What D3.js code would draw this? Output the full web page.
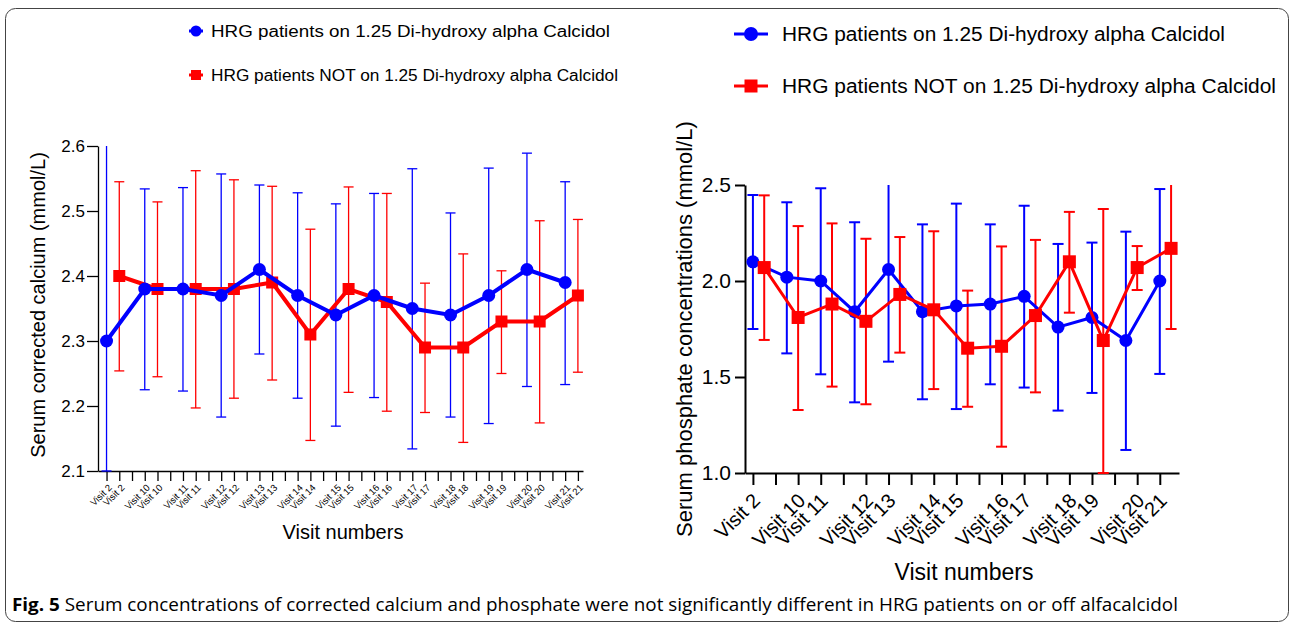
<!DOCTYPE html>
<html>
<head>
<meta charset="utf-8">
<script src="https://cdn.jsdelivr.net/npm/d3@7"></script>
<style>
  body { margin: 0; background: #fff; }
  svg { display: block; font-family: "Liberation Sans", Arial, sans-serif; }
  .axis path, .axis line { stroke: #000; }
</style>
</head>
<body>
<div id="chart"></div>
<script>
// visits shared by both panels
const visits = ["Visit 2", "Visit 10", "Visit 11", "Visit 12", "Visit 13", "Visit 14", "Visit 15",
  "Visit 16", "Visit 17", "Visit 18", "Visit 19", "Visit 20", "Visit 21"];

const seriesNames = ["HRG patients on 1.25 Di-hydroxy alpha Calcidol",
  "HRG patients NOT on 1.25 Di-hydroxy alpha Calcidol"];

// corrected calcium (mmol/L): mean, lower and upper ends of the error bars
const caOnMean = [2.30, 2.38, 2.38, 2.37, 2.41, 2.37, 2.34, 2.37, 2.35, 2.34, 2.37, 2.41, 2.39];
const caOnLow  = [2.10, 2.225, 2.223, 2.183, 2.28, 2.212, 2.169, 2.213, 2.134, 2.183, 2.173, 2.23, 2.233];
const caOnHigh = [2.64, 2.534, 2.536, 2.557, 2.54, 2.528, 2.511, 2.527, 2.565, 2.497, 2.566, 2.589, 2.545];
const caNotMean = [2.40, 2.38, 2.38, 2.38, 2.39, 2.31, 2.38, 2.36, 2.29, 2.29, 2.33, 2.33, 2.37];
const caNotLow  = [2.254, 2.245, 2.197, 2.212, 2.24, 2.147, 2.221, 2.192, 2.19, 2.144, 2.25, 2.174, 2.252];
const caNotHigh = [2.545, 2.514, 2.562, 2.548, 2.538, 2.472, 2.537, 2.527, 2.389, 2.434, 2.408, 2.485, 2.487];

// phosphate (mmol/L)
const poOnMean = [2.10, 2.02, 2.00, 1.84, 2.06, 1.84, 1.87, 1.88, 1.92, 1.76, 1.81, 1.69, 2.00];
const poOnLow  = [1.75, 1.623, 1.514, 1.368, 1.58, 1.384, 1.333, 1.462, 1.445, 1.325, 1.417, 1.12, 1.516];
const poOnHigh = [2.448, 2.41, 2.483, 2.306, 2.56, 2.295, 2.403, 2.295, 2.392, 2.193, 2.20, 2.257, 2.479];
const poNotMean = [2.07, 1.81, 1.88, 1.79, 1.93, 1.85, 1.65, 1.66, 1.82, 2.10, 1.69, 2.07, 2.17];
const poNotLow  = [1.693, 1.328, 1.45, 1.358, 1.627, 1.437, 1.345, 1.137, 1.42, 1.835, 1.00, 1.953, 1.75];
const poNotHigh = [2.446, 2.286, 2.30, 2.22, 2.229, 2.259, 1.95, 2.18, 2.214, 2.36, 2.375, 2.182, 2.58];

const caTicks = [2.1, 2.2, 2.3, 2.4, 2.5, 2.6];
const poTicks = [1.0, 1.5, 2.0, 2.5];

const colors = ["#0000ff", "#ff0000"];

const width = 1292, height = 624;
const svg = d3.select("#chart").append("svg")
  .attr("width", width).attr("height", height);

// frame
svg.append("rect")
  .attr("x", 5.5).attr("y", 8.5).attr("width", 1283).attr("height", 613)
  .attr("rx", 10)
  .attr("fill", "none").attr("stroke", "#444").attr("stroke-width", 1);

// each visit takes 3 slots: on, not on, gap
function makeSeries(mean, low, high, k) {
  return mean.map((m, i) => ({ slot: i * 3 + k, visit: visits[i], mean: m, low: low[i], high: high[i] }));
}

function slotLabel(s) {
  if (s % 3 === 2) return "";
  return visits[Math.floor(s / 3)];
}

function drawPanel(o) {
  const g = svg.append("g");
  const x = d3.scaleLinear().domain(o.xDomain).range(o.xRange);
  const y = d3.scaleLinear().domain(o.yDomain).range(o.yRange);
  const [y0, y1] = o.yDomain;

  // y axis
  const ya = g.append("g").attr("class", "axis")
    .attr("transform", `translate(${o.xRange[0]},0)`)
    .call(d3.axisLeft(y).tickValues(o.yTicks).tickFormat(d3.format(".1f"))
      .tickSize(o.yTickSize).tickSizeOuter(0).tickPadding(o.yTickPad));
  ya.selectAll("path, line").attr("stroke-width", o.axisW);
  ya.selectAll("text").attr("font-size", o.yFont).attr("font-family", "Liberation Sans, Arial").attr("fill", "#000");

  // x axis
  const xa = g.append("g").attr("class", "axis")
    .attr("transform", `translate(0,${o.yRange[0]})`)
    .call(d3.axisBottom(x).tickValues(o.xTicks).tickFormat(s => o.labelAt(s))
      .tickSize(o.xTickSize).tickSizeOuter(0));
  xa.selectAll("path, line").attr("stroke-width", o.axisW);
  xa.selectAll("text")
    .attr("font-size", o.xFont).attr("font-family", "Liberation Sans, Arial").attr("fill", "#000")
    .attr("text-anchor", "end")
    .attr("x", 0).attr("y", 0).attr("dy", "0.35em")
    .attr("transform", `translate(${o.labelDx},${o.labelDy}) rotate(-45)`);

  // axis titles
  g.append("text")
    .attr("transform", `translate(${o.yTitleX},${o.yTitleY}) rotate(-90)`)
    .attr("text-anchor", "middle").attr("font-size", o.yTitleFont)
    .text(o.yTitle);
  g.append("text")
    .attr("x", o.xTitleX).attr("y", o.xTitleY)
    .attr("text-anchor", "middle").attr("font-size", o.xTitleFont)
    .text("Visit numbers");

  const clampY = v => y(Math.max(y0, Math.min(y1, v)));
  const inside = v => v >= y0 - 1e-9 && v <= y1 + 1e-9;

  // error bars first
  o.series.forEach((ser, k) => {
    const eb = g.append("g").attr("stroke", colors[k]).attr("stroke-width", o.errW).attr("fill", "none");
    ser.forEach(d => {
      const cx = x(d.slot);
      eb.append("line").attr("x1", cx).attr("x2", cx).attr("y1", clampY(d.low)).attr("y2", clampY(d.high));
      [d.low, d.high].forEach(v => {
        if (inside(v)) {
          eb.append("line").attr("x1", cx - o.capW).attr("x2", cx + o.capW)
            .attr("y1", y(v)).attr("y2", y(v));
        }
      });
    });
  });

  const line = d3.line().x(d => x(d.slot)).y(d => y(d.mean));
  o.order.forEach(k => {
    const ser = o.series[k];
    g.append("path").datum(ser)
      .attr("d", line).attr("fill", "none")
      .attr("stroke", colors[k]).attr("stroke-width", o.lineW).attr("stroke-linejoin", "miter");
    if (k === 0) {
      g.selectAll(null).data(ser).enter().append("circle")
        .attr("cx", d => x(d.slot)).attr("cy", d => y(d.mean)).attr("r", o.markR)
        .attr("fill", colors[k]);
    } else {
      g.selectAll(null).data(ser).enter().append("rect")
        .attr("x", d => x(d.slot) - o.sq / 2).attr("y", d => y(d.mean) - o.sq / 2)
        .attr("width", o.sq).attr("height", o.sq)
        .attr("fill", colors[k]);
    }
  });
}

const leftSlots = d3.range(0, 38);
drawPanel({
  xDomain: [-0.67, 37.4], xRange: [98, 583],
  yDomain: [2.1, 2.6], yRange: [471, 146],
  yTicks: caTicks, yTickSize: 11, yTickPad: 2, yFont: 17,
  xTicks: leftSlots, xTickSize: 10, xFont: 9.5, labelAt: slotLabel,
  labelDx: 3, labelDy: 15,
  axisW: 1.3,
  yTitle: "Serum corrected calcium (mmol/L)", yTitleX: 45, yTitleY: 305, yTitleFont: 20,
  xTitleX: 343, xTitleY: 539, xTitleFont: 20,
  series: [makeSeries(caOnMean, caOnLow, caOnHigh, 0), makeSeries(caNotMean, caNotLow, caNotHigh, 1)],
  order: [1, 0],
  errW: 1.3, capW: 5, lineW: 4, markR: 6.5, sq: 12
});

const rightSlots = d3.range(0, 37, 2);
drawPanel({
  xDomain: [-0.7, 37.7], xRange: [745, 1179],
  yDomain: [1.0, 2.5], yRange: [473, 185],
  yTicks: poTicks, yTickSize: 10, yTickPad: 4, yFont: 21,
  xTicks: rightSlots, xTickSize: 12, xFont: 20, labelAt: slotLabel,
  labelDx: 3, labelDy: 24,
  axisW: 2,
  yTitle: "Serum phosphate concentrations (mmol/L)", yTitleX: 692, yTitleY: 329, yTitleFont: 22,
  xTitleX: 964, xTitleY: 580, xTitleFont: 23,
  series: [makeSeries(poOnMean, poOnLow, poOnHigh, 0), makeSeries(poNotMean, poNotLow, poNotHigh, 1)],
  order: [0, 1],
  errW: 2, capW: 5.5, lineW: 3, markR: 6.5, sq: 13
});

// legends
function legendItem(lx, ly, k, lineHalf, lineW, r, sq, tx, font, tlen) {
  const g = svg.append("g");
  g.append("line").attr("x1", lx - lineHalf).attr("x2", lx + lineHalf)
    .attr("y1", ly).attr("y2", ly).attr("stroke", colors[k]).attr("stroke-width", lineW);
  if (k === 0) g.append("circle").attr("cx", lx).attr("cy", ly).attr("r", r).attr("fill", colors[k]);
  else g.append("rect").attr("x", lx - sq / 2).attr("y", ly - sq / 2).attr("width", sq).attr("height", sq).attr("fill", colors[k]);
  g.append("text").attr("x", tx).attr("y", ly).attr("dy", "0.35em")
    .attr("font-size", font).attr("textLength", tlen).attr("lengthAdjust", "spacingAndGlyphs")
    .text(seriesNames[k]);
}
legendItem(196, 31, 0, 7, 3, 5.5, 10, 211, 16, 399);
legendItem(196, 75, 1, 7, 3, 5.5, 10, 211, 16, 407);
legendItem(751, 34, 0, 17, 3, 7, 13, 782, 20, 443);
legendItem(751, 86, 1, 17, 3, 7, 13, 782, 20, 494);

// caption
const cap = svg.append("text").attr("x", 12).attr("y", 611)
  .attr("font-family", "'Open Sans', 'Noto Sans', sans-serif").attr("font-size", 18)
  .attr("textLength", 1166).attr("lengthAdjust", "spacingAndGlyphs");
cap.append("tspan").attr("font-weight", "bold").text("Fig. 5");
cap.append("tspan").text(" Serum concentrations of corrected calcium and phosphate were not significantly different in HRG patients on or off alfacalcidol");
</script>
</body>
</html>
